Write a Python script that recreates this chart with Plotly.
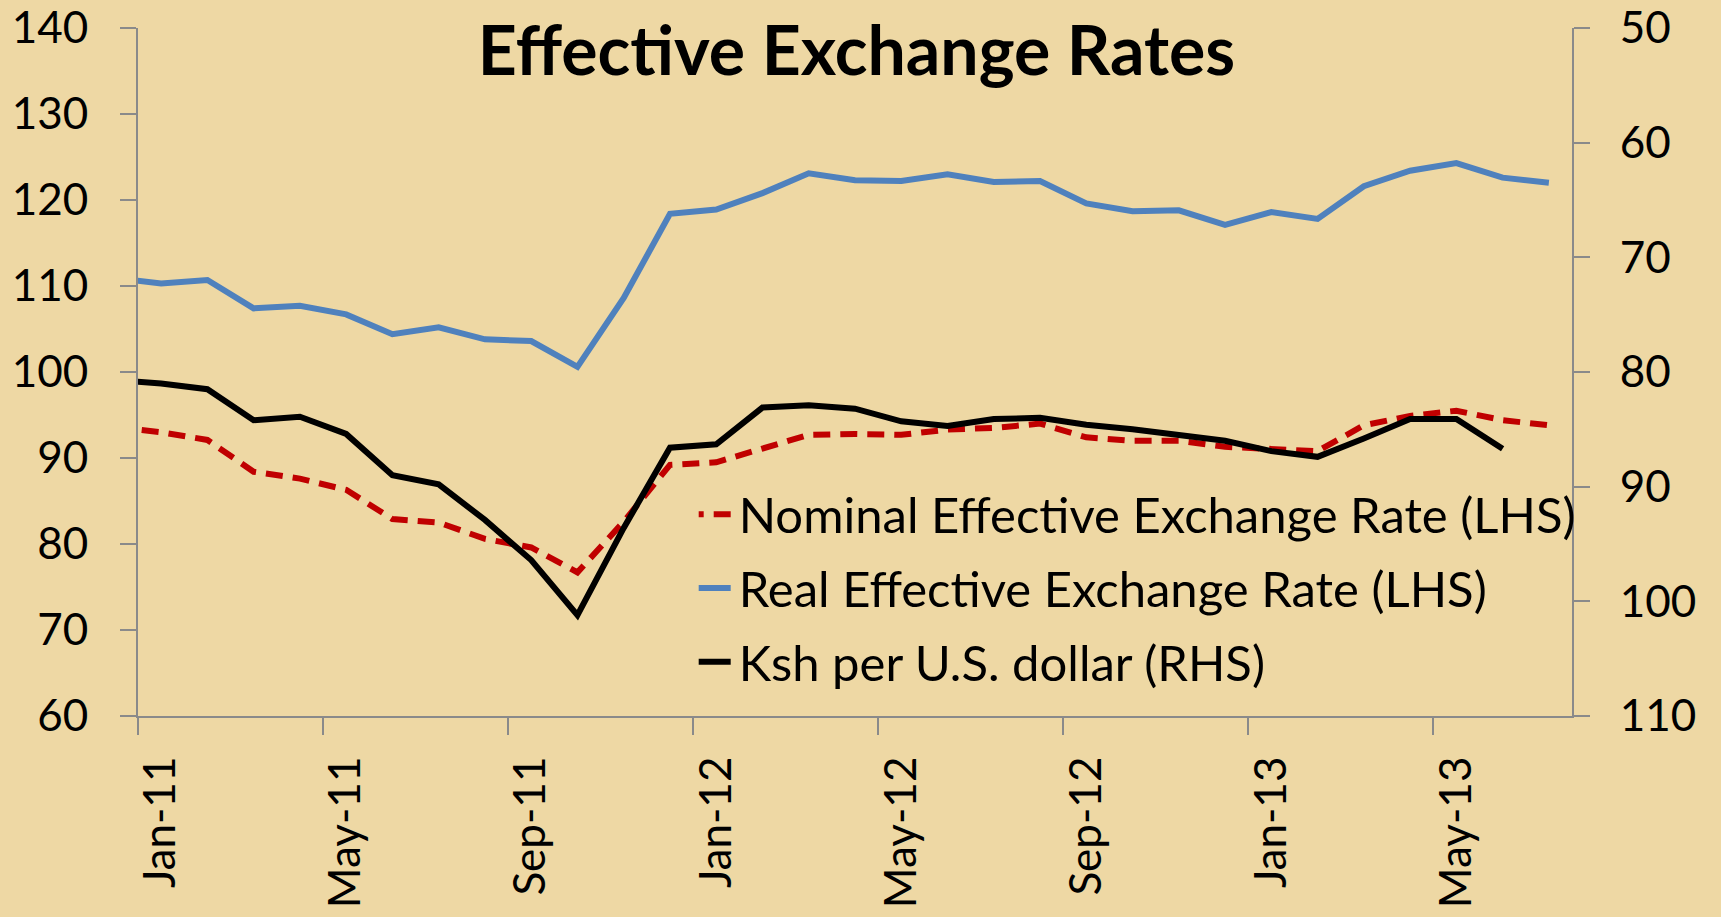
import plotly.graph_objects as go
import numpy as np

months = ["Dec-10",
          "Jan-11", "Feb-11", "Mar-11", "Apr-11", "May-11", "Jun-11", "Jul-11", "Aug-11",
          "Sep-11", "Oct-11", "Nov-11", "Dec-11",
          "Jan-12", "Feb-12", "Mar-12", "Apr-12", "May-12", "Jun-12", "Jul-12", "Aug-12",
          "Sep-12", "Oct-12", "Nov-12", "Dec-12",
          "Jan-13", "Feb-13", "Mar-13", "Apr-13", "May-13", "Jun-13", "Jul-13"]

neer = [93.6,
        93.0, 92.1, 88.4, 87.6, 86.3, 82.9, 82.5, 80.6, 79.6, 76.7, 82.6, 89.2,
        89.5, 91.1, 92.7, 92.8, 92.7, 93.3, 93.5, 94.0, 92.4, 92.0, 92.0, 91.3,
        91.0, 90.8, 93.8, 94.9, 95.5, 94.4, 93.8]

reer = [110.9,
        110.3, 110.7, 107.4, 107.7, 106.7, 104.4, 105.2, 103.8, 103.6, 100.6, 108.6, 118.4,
        118.9, 120.8, 123.1, 122.3, 122.2, 123.0, 122.1, 122.2, 119.6, 118.7, 118.8, 117.1,
        118.6, 117.8, 121.6, 123.4, 124.3, 122.6, 122.0]

ksh = [80.7,
       81.0, 81.5, 84.2, 83.9, 85.4, 89.0, 89.8, 92.9, 96.4, 101.2, 93.6, 86.6,
       86.3, 83.1, 82.9, 83.2, 84.3, 84.7, 84.1, 84.0, 84.6, 85.0, 85.5, 86.0,
       86.9, 87.4, 85.8, 84.1, 84.1, 86.7, None]

tick_labels = ["Jan-11", "May-11", "Sep-11", "Jan-12", "May-12", "Sep-12", "Jan-13", "May-13"]

# numeric category positions: Jan-11 = 0
xpos = np.arange(len(months)) - 1
tick_pos = [months.index(t) - 1 for t in tick_labels]
boundary_pos = [p - 0.5 for p in tick_pos]

BG = "#EED8A4"
AXIS = "#8A8A8A"
FONT = "Lato"

fig = go.Figure()
fig.add_trace(go.Scatter(
    x=xpos, y=neer, mode="lines", name="Nominal Effective Exchange Rate (LHS)",
    line=dict(color="#C00000", width=6, dash="17px,10px"), legendgroup="a",
    text=months, hovertemplate="%{text}: %{y}<extra></extra>"))
fig.add_trace(go.Scatter(
    x=xpos, y=reer, mode="lines", name="Real Effective Exchange Rate (LHS)",
    line=dict(color="#4F81BD", width=6), legendgroup="b",
    text=months, hovertemplate="%{text}: %{y}<extra></extra>"))
fig.add_trace(go.Scatter(
    x=xpos, y=ksh, mode="lines", name="Ksh per U.S. dollar (RHS)",
    line=dict(color="#000000", width=6), legendgroup="c", yaxis="y2",
    text=months, hovertemplate="%{text}: %{y}<extra></extra>"))

fig.update_layout(
    width=1721, height=917,
    margin=dict(l=138, r=149, t=28, b=201),
    paper_bgcolor=BG, plot_bgcolor=BG,
    font=dict(family=FONT, size=44, color="#000000"),
    title=dict(text="<b>Effective Exchange Rates</b>", xref="container", x=0.4977,
               xanchor="center", yref="container", y=1 - 51 / 917, yanchor="middle",
               font=dict(family=FONT, size=68, color="#000000")),
    showlegend=True,
    legend=dict(x=0.391, y=0.349, xanchor="left", yanchor="top",
                bgcolor="rgba(0,0,0,0)", font=dict(family=FONT, size=49),
                tracegroupgap=7, itemwidth=30),
    xaxis=dict(range=[-0.5, 30.5], tickmode="array", tickvals=tick_pos, ticktext=tick_labels,
               tickangle=-90, ticks="", showgrid=False, zeroline=False, automargin=False,
               showline=True, linecolor=AXIS, linewidth=2,
               tickfont=dict(size=44), ticklabelstandoff=21,
               minor=dict(tickmode="array", tickvals=boundary_pos, ticks="outside",
                          ticklen=17, tickcolor=AXIS, tickwidth=2, showgrid=False)),
    yaxis=dict(range=[60, 140], tickvals=list(range(60, 141, 10)), ticks="outside",
               ticklen=16, tickcolor=AXIS, tickwidth=2, showgrid=False, zeroline=False,
               automargin=False,
               showline=True, linecolor=AXIS, linewidth=2, ticklabelstandoff=23),
    yaxis2=dict(range=[110, 50], tickvals=list(range(50, 111, 10)), overlaying="y",
                side="right", ticks="outside", ticklen=16, tickcolor=AXIS, tickwidth=2,
                showgrid=False, zeroline=False, showline=True, linecolor=AXIS,
                automargin=False,
                linewidth=2, ticklabelstandoff=21),
)

post = """
document.body.style.margin='0px';
document.body.style.background='%s';
var gd = document.getElementById('{plot_id}');
function fixLegend(){
  document.querySelectorAll('.legendlines path').forEach(function(p){
    p.setAttribute('d','M-39,0h71');
  });
}
if (gd && gd.on) { gd.on('plotly_afterplot', fixLegend); }
fixLegend();
setTimeout(fixLegend, 100);
setTimeout(fixLegend, 500);
setTimeout(fixLegend, 1500);
""" % BG

fig.write_html("out.html", config={"displayModeBar": False}, post_script=post)
